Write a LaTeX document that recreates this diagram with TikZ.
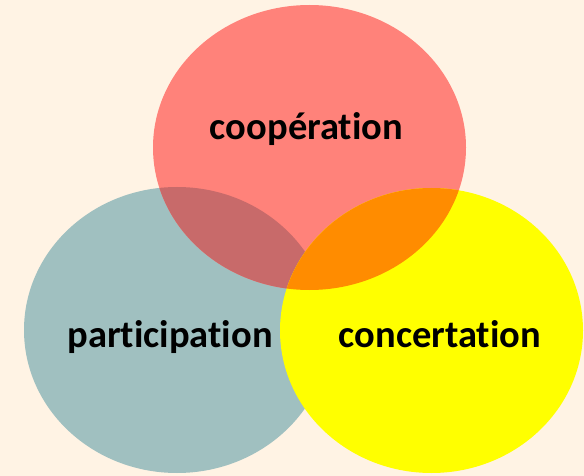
\documentclass[tikz,border=0pt]{standalone}
\usepackage{fontspec}
\setmainfont{Carlito}[RawFeature=-liga]
\definecolor{bgc}{RGB}{255,243,228}
\definecolor{redc}{RGB}{255,130,122}
\definecolor{tealc}{RGB}{160,192,192}
\definecolor{yelc}{RGB}{255,255,0}
\definecolor{redteal}{RGB}{200,106,106}
\definecolor{redyel}{RGB}{255,140,0}
\begin{document}
\begin{tikzpicture}[x=1pt,y=-1pt,
  lbl/.style={font=\bfseries\fontsize{38.5}{42}\selectfont, inner sep=0pt, anchor=base, text=black}]
\fill[bgc] (0,0) rectangle (584,476);
\useasboundingbox (0,0) rectangle (584,476);
\def\redE{(309.5,147.5) ellipse [x radius=156.5pt, y radius=142.5pt]}
\def\tealE{(177,330) ellipse [x radius=153pt, y radius=143pt]}
\def\yelE{(431.5,330.5) ellipse [x radius=151.5pt, y radius=142.5pt]}
\fill[tealc] \tealE;
\fill[redc] \redE;
\begin{scope}
  \clip \redE;
  \fill[redteal] \tealE;
\end{scope}
\fill[yelc] \yelE;
\begin{scope}
  \clip \redE;
  \fill[redyel] \yelE;
\end{scope}
\node[lbl] (coop) at (306.5,140) {coopération};
\node[lbl] (part) at (170,347) {participation};
\node[lbl] (conc) at (440,347) {concertation};
\end{tikzpicture}
\end{document}
